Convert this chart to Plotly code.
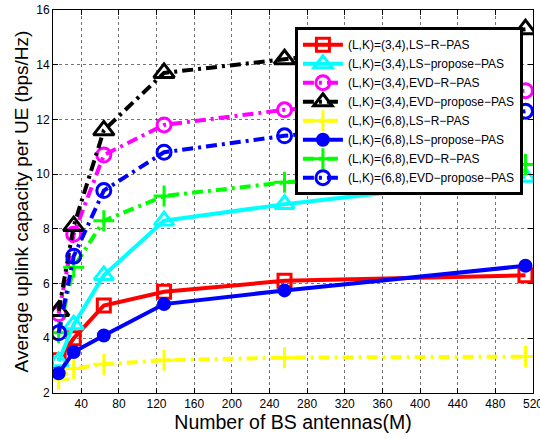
import plotly.graph_objects as go

M = [16, 32, 64, 128, 256, 512]

ls_r_34 = [3.2, 4.0, 5.2, 5.7, 6.1, 6.3]
ls_p_34 = [3.15, 4.5, 6.3, 8.3, 8.9, 9.9]
evd_r_34 = [4.9, 7.8, 10.7, 11.8, 12.35, 13.05]
evd_p_34 = [5.0, 8.1, 11.6, 13.7, 14.2, 15.3]
ls_r_68 = [2.5, 2.9, 3.05, 3.2, 3.29, 3.33]
ls_p_68 = [2.72, 3.5, 4.1, 5.25, 5.75, 6.65]
evd_r_68 = [4.2, 6.6, 8.3, 9.2, 9.7, 10.35]
evd_p_68 = [4.2, 7.0, 9.4, 10.8, 11.4, 12.3]

names = [
    "(L,K)=(3,4),LS−R−PAS",
    "(L,K)=(3,4),LS−propose−PAS",
    "(L,K)=(3,4),EVD−R−PAS",
    "(L,K)=(3,4),EVD−propose−PAS",
    "(L,K)=(6,8),LS−R−PAS",
    "(L,K)=(6,8),LS−propose−PAS",
    "(L,K)=(6,8),EVD−R−PAS",
    "(L,K)=(6,8),EVD−propose−PAS",
]
series = [ls_r_34, ls_p_34, evd_r_34, evd_p_34, ls_r_68, ls_p_68, evd_r_68, evd_p_68]
colors = ["#ff0000", "#00ffff", "#ff00ff", "#000000", "#ffff00", "#0000ff", "#00ff00", "#0000ff"]
dashes = ["solid", "solid", "dashdot", "dashdot", "dashdot", "solid", "dashdot", "dashdot"]
symbols = ["square-open", "triangle-up-open", "circle-open", "triangle-up-open",
           "cross-thin-open", "circle", "cross-thin-open", "circle-open"]
sizes = [13, 17, 14, 18, 15, 11, 15, 14]

DASHDOT = "11px,5px,3px,5px"

fig = go.Figure()
for nm, ys, c, d, s, sz in zip(names, series, colors, dashes, symbols, sizes):
    fig.add_trace(go.Scatter(
        x=M, y=ys, name=nm, mode="lines+markers",
        line=dict(color=c, width=4, dash=(DASHDOT if d == "dashdot" else "solid")),
        marker=dict(symbol=s, size=sz, color=c, line=dict(color=c, width=3)),
    ))

axis_common = dict(
    showline=True, linecolor="black", linewidth=1, mirror="allticks",
    ticks="inside", ticklen=5, tickcolor="black",
    showgrid=True, gridcolor="rgba(0,0,0,0.55)", gridwidth=1, griddash="dot",
    zeroline=False, tickfont=dict(size=12, color="black", family="Liberation Sans"),
    ticklabeloverflow="allow", automargin=False,
)

fig.update_xaxes(range=[10, 520.01], tickvals=list(range(40, 521, 40)),
                 title=dict(text="Number of BS antennas(M)", font=dict(size=19.5, family="Liberation Sans", color="black"), standoff=2),
                 **axis_common)
fig.update_yaxes(range=[2, 16], tickvals=list(range(2, 17, 2)),
                 title=dict(text="Average uplink capacity per UE (bps/Hz)", font=dict(size=19, family="Liberation Sans", color="black"), standoff=2),
                 **axis_common)

fig.update_layout(
    width=540, height=439,
    margin=dict(l=53, r=7, t=10, b=46),
    paper_bgcolor="white", plot_bgcolor="white",
    font=dict(family="Liberation Sans", color="black"),
    legend=dict(x=0.504, y=0.955, xanchor="left", yanchor="top",
                bgcolor="white", bordercolor="black", borderwidth=3,
                font=dict(size=12, family="Liberation Sans", color="black"),
                itemwidth=40, tracegroupgap=0),
    showlegend=True,
)

fig.write_html("out.html", config={"displayModeBar": False},
               post_script="document.body.style.margin='0';document.body.style.overflow='hidden';")
